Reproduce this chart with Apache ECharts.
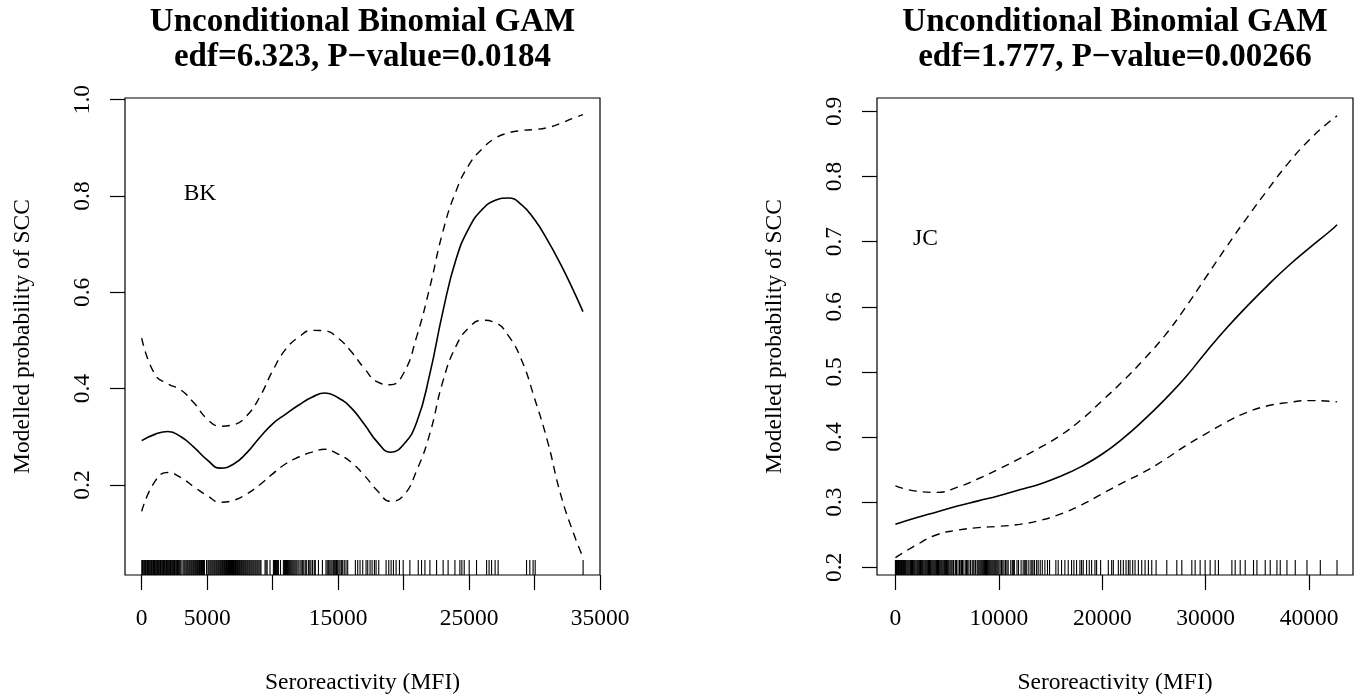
<!DOCTYPE html>
<html>
<head>
<meta charset="utf-8">
<script src="https://cdn.jsdelivr.net/npm/echarts@6/dist/echarts.min.js"></script>
<style>
html,body{margin:0;padding:0;background:#fff;}
#chart{width:1362px;height:700px;}
</style>
</head>
<body>
<div id="chart"></div>
<script>
// ---------- BK panel data ----------
const bkX = [0,1000,2000,3000,4000,5000,6000,7000,8000,9000,10000,11000,12000,13000,14000,15000,16000,17000,18000,19000,20000,21000,22000,23000,24000,25000,26000,27000,28000,29000,30000,31000,32000,33000,33700];
const bkFit = [0.292,0.305,0.311,0.300,0.278,0.252,0.235,0.243,0.266,0.298,0.327,0.347,0.366,0.382,0.391,0.381,0.360,0.326,0.289,0.268,0.284,0.330,0.430,0.560,0.668,0.734,0.772,0.791,0.796,0.782,0.751,0.708,0.658,0.602,0.560];
const bkUpper = [0.505,0.430,0.410,0.397,0.370,0.337,0.322,0.325,0.343,0.382,0.437,0.482,0.507,0.521,0.520,0.505,0.477,0.442,0.414,0.408,0.432,0.508,0.610,0.726,0.810,0.865,0.898,0.920,0.931,0.936,0.938,0.942,0.951,0.962,0.969];
const bkLower = [0.145,0.207,0.226,0.215,0.196,0.178,0.164,0.168,0.181,0.200,0.223,0.244,0.258,0.268,0.274,0.264,0.247,0.220,0.188,0.166,0.178,0.230,0.306,0.415,0.488,0.527,0.542,0.537,0.510,0.460,0.380,0.290,0.180,0.098,0.050];
const bkRug = [
 10,60,110,170,230,280,340,400,450,510,570,620,690,740,800,860,910,980,1030,1090,1150,1200,1270,1320,1380,1440,1490,1560,1610,1670,1730,1790,1850,1900,1960,2030,2080,2140,2200,2260,2330,2380,2440,2500,2560,2630,2680,2740,2800,2870,2940,3010,
 3150,3230,3300,3380,3450,3520,3600,3670,3750,3820,3900,3970,4050,4120,4200,4270,4350,4420,4500,4570,4650,4720,4790,4950,
 5060,5130,5210,5280,5360,5430,5510,5580,5660,5730,5810,5880,5960,6030,6110,6180,6260,6330,6410,6480,6560,6630,6710,6780,6860,6930,7010,7080,7160,7230,7310,7380,7460,7530,7610,7680,7760,7830,7910,7980,8060,8130,8210,8280,8360,8430,8510,8580,8660,8730,8810,8880,8960,9040,9110,
 9420,9500,9580,9800,10060,10140,10220,10300,10380,10440,10600,10820,10900,10980,11060,11140,11220,11300,11380,11460,11540,11620,11700,11780,
 11856,11950,12085,12180,12289,12380,12493,12600,12748,12840,12926,13050,13181,13260,13500,13800,
 14074,14170,14278,14370,14456,14540,14635,14710,14788,14880,14966,15060,15145,15250,15349,15470,15604,15732,16318,16497,16675,16879,17134,17262,17440,17593,17772,17899,18103,18664,18868,19047,19225,19429,19684,
 19970,20480,21120,21370,21630,22010,22520,23020,23400,23920,24300,24450,24630,25010,25570,26340,26530,26720,26990,27220,29390,29640,29890,30050,33710
];
const bkXTicks = [0,5000,10000,15000,20000,25000,30000,35000];
const bkXLabels = [0,5000,15000,25000,35000];
const bkYTicks = [0.2,0.4,0.6,0.8,1.0];

// ---------- JC panel data ----------
const jcX = [0,2000,4000,6000,8000,10000,12000,14000,16000,18000,20000,22000,24000,26000,28000,30000,32000,34000,36000,38000,40000,42000,42700];
const jcFit = [0.266,0.276,0.285,0.294,0.302,0.310,0.319,0.328,0.340,0.355,0.374,0.398,0.426,0.457,0.491,0.530,0.567,0.601,0.633,0.663,0.690,0.716,0.726];
const jcUpper = [0.325,0.317,0.315,0.323,0.336,0.351,0.367,0.384,0.403,0.427,0.456,0.486,0.519,0.555,0.598,0.645,0.692,0.737,0.780,0.821,0.856,0.885,0.893];
const jcLower = [0.215,0.234,0.250,0.257,0.261,0.263,0.266,0.272,0.282,0.296,0.313,0.330,0.346,0.365,0.386,0.405,0.423,0.438,0.448,0.453,0.456,0.455,0.454];
const jcRug = [
 0,50,110,170,230,290,350,410,470,530,590,650,710,770,830,890,
 960,1040,1130,1210,1300,1390,1470,1560,1650,1730,1820,1900,1990,2080,2160,2250,2340,2420,2510,2600,2680,2770,2860,2940,3030,3120,3200,3290,3380,3460,3550,3640,3720,3810,3900,3980,4070,4160,4240,4330,4420,4500,4590,4680,4760,4850,4940,5020,5110,5200,
 5350,5450,5560,5620,5780,5850,5900,6050,6200,6330,6400,6480,6620,6800,6870,6950,7100,7250,7420,7510,7600,7750,
 7900,7990,8080,8170,8260,8350,8440,8530,8620,8710,8800,8890,8980,9070,9160,9250,9340,9430,9520,9610,9700,9800,9900,10000,
 10120,10250,10380,10500,10650,10780,10900,11150,11300,11400,11500,11750,11900,12150,12350,12500,12600,12700,12900,13100,13200,13300,13450,13650,13800,14000,14200,14450,14700,14900,
 15509,15736,16059,16382,16705,17028,17254,17512,17835,17997,18158,18481,18740,18966,19289,19450,19838,20581,20904,21065,21550,21776,22034,22292,22519,22680,22938,23164,23488,23811,24134,24457,24780,25199,
 26234,27202,27686,28654,28974,29458,29942,30426,30910,31229,32527,32846,33330,33814,34618,34948,35750,36234,36882,37202,37850,38654,39787,41075,42691
];
const jcXTicks = [0,10000,20000,30000,40000];
const jcXLabels = [0,10000,20000,30000,40000];
const jcYTicks = [0.2,0.3,0.4,0.5,0.6,0.7,0.8,0.9];

const titles = ['Unconditional Binomial GAM\nedf=6.323, P\u2212value=0.0184', 'Unconditional Binomial GAM\nedf=1.777, P\u2212value=0.00266'];
const panelLabels = [{name:'BK', x:4450, y:0.805}, {name:'JC', x:2900, y:0.705}];
const xTitle = 'Seroreactivity (MFI)';
const yTitle = 'Modelled probability of SCC';

// ---------- chart ----------
const FONT = "'Liberation Serif', serif";
const FS = 23.5;
const axisRanges = [
  {xmin:-1275, xmax:35000, ymin:0.013, ymax:1.0035},
  {xmin:-1781, xmax:44236, ymin:0.1882, ymax:0.9206}
];
const panels = [
  {x:bkX, fit:bkFit, up:bkUpper, lo:bkLower, rug:bkRug, xt:bkXTicks, xl:bkXLabels, yt:bkYTicks},
  {x:jcX, fit:jcFit, up:jcUpper, lo:jcLower, rug:jcRug, xt:jcXTicks, xl:jcXLabels, yt:jcYTicks}
];
const gridBoxes = [{left:125, top:98, width:475, height:477},{left:877, top:98, width:476, height:477}];

const xAxes = [], yAxes = [], series = [], grids = [], titleOpts = [];
panels.forEach((p, i) => {
  const r = axisRanges[i];
  grids.push(Object.assign({show:true, borderColor:'#000', borderWidth:1.2, backgroundColor:'transparent', containLabel:false}, gridBoxes[i]));
  titleOpts.push({
    text: titles[i], left: gridBoxes[i].left + gridBoxes[i].width/2, top: 5, textAlign:'center', padding:0,
    textStyle:{fontFamily:FONT, fontWeight:'bold', fontSize:33, lineHeight:35, color:'#000'}
  });
  xAxes.push({
    type:'value', gridIndex:i, min:r.xmin, max:r.xmax,
    axisLine:{show:false, onZero:false}, splitLine:{show:false},
    axisTick:{show:true, inside:false, length:15, customValues:p.xt, lineStyle:{color:'#000', width:1.2}},
    axisLabel:{show:true, customValues:p.xl, margin:32, color:'#000', fontFamily:FONT, fontSize:FS, formatter:v=>String(v)},
    name:xTitle, nameLocation:'middle', nameGap:96,
    nameTextStyle:{fontFamily:FONT, fontSize:FS, color:'#000'}
  });
  yAxes.push({
    type:'value', gridIndex:i, min:r.ymin, max:r.ymax,
    axisLine:{show:false, onZero:false}, splitLine:{show:false},
    axisTick:{show:true, inside:false, length:15, customValues:p.yt, lineStyle:{color:'#000', width:1.2}},
    axisLabel:{show:true, customValues:p.yt, rotate:90, margin:30, color:'#000', fontFamily:FONT, fontSize:FS, formatter:v=>v.toFixed(1)},
    name:yTitle, nameLocation:'middle', nameRotate:90, nameGap:90,
    nameTextStyle:{fontFamily:FONT, fontSize:FS, color:'#000'}
  });
  const mk = arr => p.x.map((xv, k) => [xv, arr[k]]);
  const common = {xAxisIndex:i, yAxisIndex:i, showSymbol:false, smooth:0.5, z:4, silent:true};
  series.push(Object.assign({type:'line', data:mk(p.fit), lineStyle:{color:'#000', width:1.6}}, common));
  series.push(Object.assign({type:'line', data:mk(p.up), lineStyle:{color:'#000', width:1.4, type:[8,6]}}, common));
  series.push(Object.assign({type:'line', data:mk(p.lo), lineStyle:{color:'#000', width:1.4, type:[8,6]}}, common));
  const yMin = r.ymin;
  series.push({
    type:'custom', xAxisIndex:i, yAxisIndex:i, silent:true, z:3,
    data:p.rug.map(v => [v, yMin]),
    encode:{x:0, y:1},
    renderItem:(params, api) => {
      const pt = api.coord([api.value(0), yMin]);
      return {type:'line', shape:{x1:pt[0], y1:pt[1], x2:pt[0], y2:pt[1]-15}, style:{stroke:'#000', lineWidth:1.1}};
    }
  });
  const lab = panelLabels[i];
  series.push({
    type:'scatter', xAxisIndex:i, yAxisIndex:i, symbolSize:0, silent:true,
    itemStyle:{opacity:1},
    data:[{name:lab.name, value:[lab.x, lab.y]}],
    label:{show:true, position:'inside', formatter:'{b}', color:'#000', opacity:1, textBorderWidth:0, fontFamily:FONT, fontSize:FS}
  });
});

const chart = echarts.init(document.getElementById('chart'), null, {renderer:'canvas'});
chart.setOption({
  animation:false,
  backgroundColor:'#fff',
  title:titleOpts,
  grid:grids,
  xAxis:xAxes,
  yAxis:yAxes,
  series:series
});
</script>
</body>
</html>
